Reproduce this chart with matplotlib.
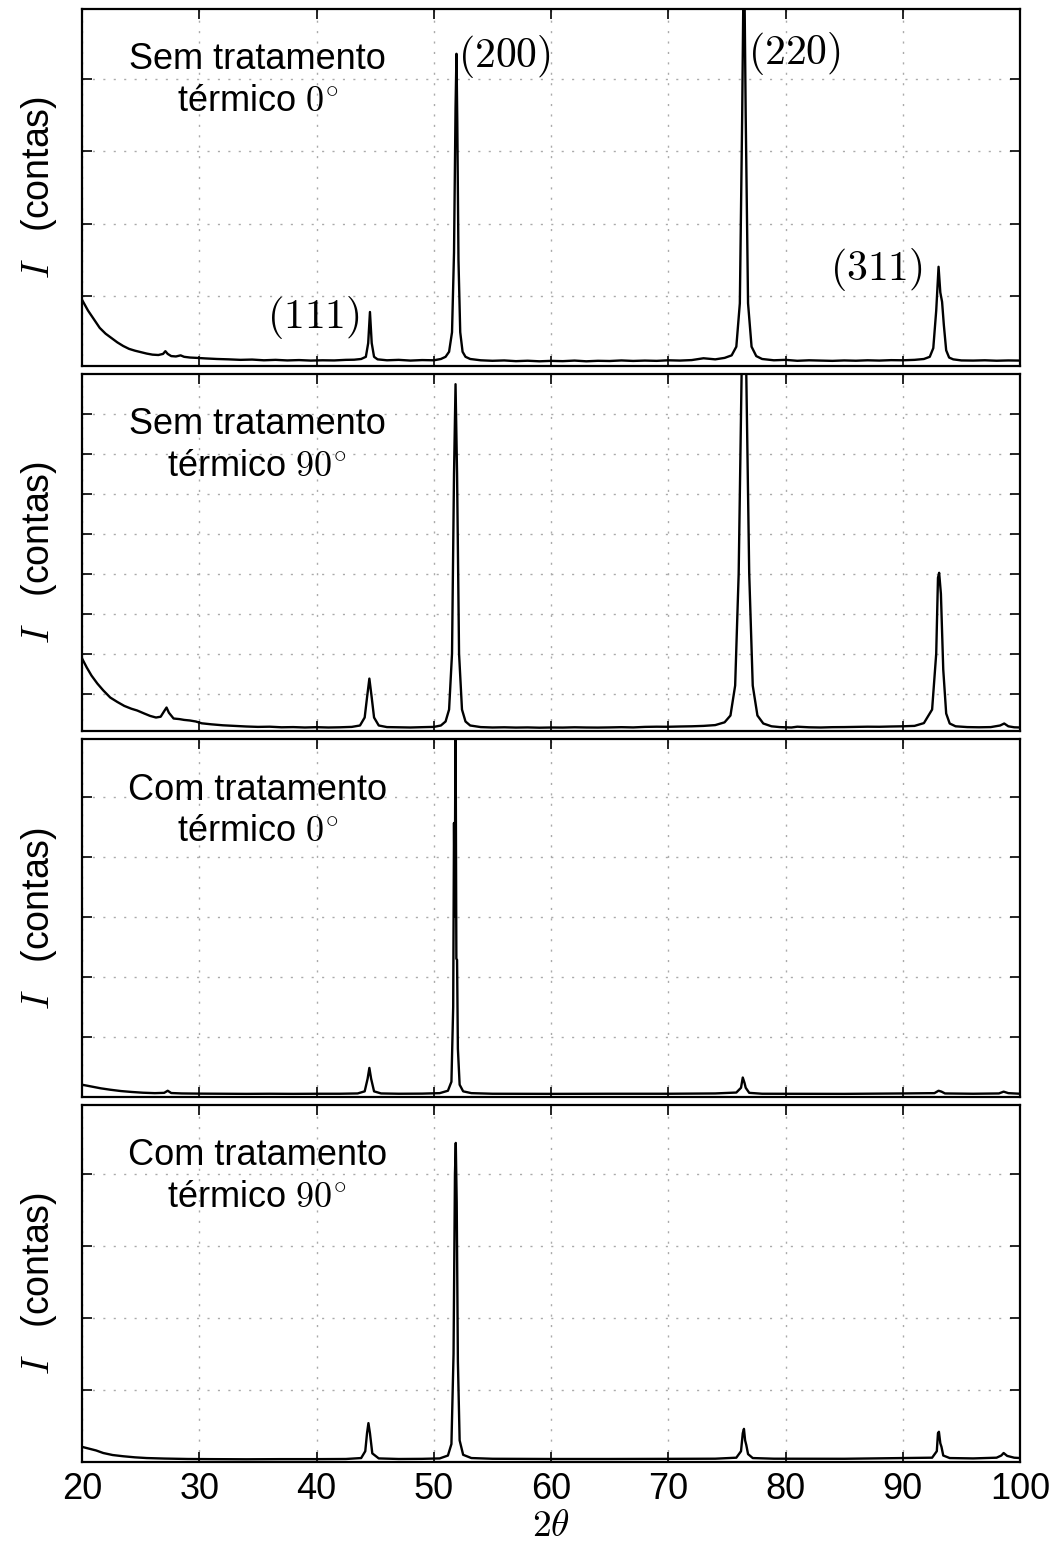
import matplotlib
matplotlib.use('Agg')
import matplotlib.pyplot as plt

plt.rcParams['font.family'] = ['Liberation Sans', 'DejaVu Sans']
plt.rcParams['mathtext.fontset'] = 'cm'

# --- difratogramas (2theta, contagens) ---
tt_sem0 = [20.0, 20.5, 21.0, 21.5, 22.0, 22.5, 23.0, 23.5, 24.0, 24.5, 25.0, 25.5, 26.0, 26.5,
           26.9, 27.1, 27.3, 27.6, 28.0, 28.4, 28.7, 29.2, 29.8, 30.5, 31.5, 32.5, 33.5, 34.5,
           35.5, 36.5, 37.5, 38.5, 39.5, 40.5, 41.5, 42.5, 43.2, 43.8, 44.2, 44.4, 44.55, 44.7,
           44.9, 45.2, 46.0, 47.0, 48.0, 49.0, 50.0, 50.6, 51.0, 51.3, 51.55, 51.72, 51.85, 51.93,
           52.0, 52.1, 52.25, 52.45, 52.7, 53.1, 54.0, 55.0, 56.0, 57.0, 58.0, 59.0, 60.0, 61.0,
           62.0, 63.0, 64.0, 65.0, 66.0, 67.0, 68.0, 69.0, 70.0, 71.0, 72.0, 73.0, 74.0, 74.8,
           75.4, 75.8, 76.1, 76.3, 76.45, 76.6, 76.8, 77.1, 77.5, 78.0, 79.0, 80.0, 81.0, 82.0,
           83.0, 84.0, 85.0, 86.0, 87.0, 88.0, 89.0, 90.0, 91.0, 91.8, 92.3, 92.6, 92.85, 93.05,
           93.2, 93.35, 93.5, 93.7, 93.95, 94.3, 95.0, 96.0, 97.0, 98.0, 99.0, 100.0]
cts_sem0 = [946, 800, 680, 560, 480, 420, 360, 310, 270, 245, 225, 205, 190, 185,
            200, 238, 200, 170, 165, 180, 160, 150, 145, 138, 130, 125, 118, 122,
            112, 118, 110, 115, 108, 112, 110, 118, 120, 130, 160, 350, 780, 350,
            160, 125, 112, 118, 108, 115, 112, 130, 160, 230, 500, 1600, 3600, 4350,
            3400, 1500, 500, 230, 160, 130, 112, 105, 110, 100, 106, 98, 104, 100,
            108, 98, 105, 102, 110, 103, 108, 104, 112, 108, 115, 140, 125, 145,
            180, 300, 900, 3500, 6000, 3500, 900, 300, 170, 130, 112, 118, 105, 112,
            108, 104, 110, 106, 112, 108, 114, 112, 118, 130, 160, 280, 800, 1405,
            1050, 920, 600, 250, 150, 125, 110, 108, 112, 106, 110, 108]

tt_sem90 = [20.0, 20.4, 20.8, 21.3, 21.8, 22.4, 23.0, 23.6, 24.2, 24.7, 25.3, 25.8, 26.3, 26.7,
            27.0, 27.2, 27.4, 27.8, 28.3, 28.7, 29.2, 29.7, 30.2, 31.0, 32.0, 33.0, 34.0, 35.0,
            36.0, 37.0, 38.0, 39.0, 40.0, 41.0, 42.0, 43.0, 43.7, 44.1, 44.3, 44.5, 44.7, 44.9,
            45.3, 46.0, 47.0, 48.0, 49.0, 50.0, 50.6, 51.0, 51.3, 51.55, 51.72, 51.85, 51.98, 52.15,
            52.4, 52.7, 53.1, 54.0, 55.0, 56.0, 57.0, 58.0, 59.0, 60.0, 61.0, 62.0, 63.0, 64.0,
            65.0, 66.0, 67.0, 68.0, 69.0, 70.0, 71.0, 72.0, 73.0, 74.0, 74.8, 75.3, 75.7, 76.0,
            76.25, 76.45, 76.65, 76.9, 77.2, 77.6, 78.1, 78.8, 79.5, 80.5, 81.0, 82.0, 83.0, 84.0,
            85.0, 86.0, 87.0, 88.0, 89.0, 90.0, 91.0, 91.8, 92.5, 92.85, 93.0, 93.1, 93.25, 93.45,
            93.7, 94.0, 94.5, 95.5, 96.5, 97.5, 98.3, 98.65, 99.0, 99.5, 100.0]
cts_sem90 = [1875, 1650, 1450, 1250, 1080, 900, 790, 690, 620, 575, 500, 440, 400, 420,
             560, 650, 520, 375, 360, 340, 325, 300, 255, 230, 205, 190, 175, 165,
             170, 155, 160, 150, 158, 150, 155, 165, 200, 400, 900, 1375, 900, 400,
             200, 160, 155, 150, 158, 165, 200, 300, 600, 2000, 6500, 8750, 6500, 2000,
             600, 300, 200, 160, 150, 155, 148, 152, 145, 150, 148, 155, 150, 148,
             152, 158, 152, 165, 170, 168, 175, 180, 190, 210, 280, 450, 1200, 4000,
             9000, 10500, 9000, 4000, 1200, 450, 250, 180, 160, 150, 170, 155, 150, 158,
             160, 165, 170, 168, 175, 180, 190, 260, 600, 2000, 3900, 4025, 3500, 1600,
             500, 250, 180, 160, 155, 160, 200, 250, 180, 155, 150]

tt_com0 = [20.0, 20.8, 21.6, 22.4, 23.3, 24.2, 25.2, 26.2, 27.0, 27.3, 27.6, 28.5, 30.0, 32.0,
           34.0, 36.0, 38.0, 40.0, 42.0, 43.5, 44.1, 44.35, 44.5, 44.65, 44.9, 45.5, 47.0, 49.0,
           50.5, 51.2, 51.5, 51.65, 51.72, 51.78, 51.85, 51.92, 51.98, 52.05, 52.2, 52.5, 53.2, 55.0,
           60.0, 65.0, 70.0, 74.0, 75.8, 76.2, 76.35, 76.5, 76.6, 76.9, 78.0, 85.0, 90.0, 92.7,
           93.05, 93.3, 93.6, 96.0, 98.2, 98.6, 99.0, 100.0]
cts_com0 = [200, 170, 140, 117, 95, 80, 67, 60, 65, 100, 62, 55, 52, 50,
            48, 50, 48, 50, 50, 55, 90, 300, 480, 300, 90, 55, 50, 52,
            60, 100, 250, 1500, 4560, 3000, 6500, 2300, 2280, 800, 200, 90, 60, 50,
            48, 50, 50, 55, 70, 150, 320, 230, 150, 65, 50, 48, 55, 60,
            100, 85, 55, 50, 55, 85, 60, 50]

tt_com90 = [20.0, 20.6, 21.2, 21.8, 22.6, 23.5, 24.5, 25.5, 27.0, 29.0, 31.0, 34.0, 37.0, 40.0,
            42.5, 43.8, 44.15, 44.3, 44.42, 44.55, 44.75, 45.3, 47.0, 49.0, 50.5, 51.2, 51.5, 51.68,
            51.8, 51.87, 51.95, 52.05, 52.2, 52.5, 53.2, 55.0, 60.0, 65.0, 70.0, 74.0, 75.8, 76.2,
            76.35, 76.45, 76.55, 76.65, 76.8, 77.2, 79.0, 85.0, 90.0, 92.5, 92.9, 93.0, 93.08, 93.2,
            93.3, 93.45, 94.0, 96.0, 98.0, 98.4, 98.6, 98.9, 99.5, 100.0]
cts_com90 = [210, 185, 160, 125, 97, 80, 65, 55, 48, 42, 40, 38, 40, 40,
             42, 55, 150, 400, 540, 400, 120, 50, 42, 44, 50, 90, 250, 1500,
             4000, 4430, 3600, 1400, 300, 100, 55, 45, 42, 42, 44, 46, 60, 150,
             400, 460, 300, 236, 110, 55, 46, 45, 55, 60, 150, 400, 420, 260,
             210, 90, 55, 50, 60, 90, 125, 85, 60, 55]

titles = ['Sem tratamento\ntérmico $0^{\\!\\circ}$', 'Sem tratamento\ntérmico $90^{\\!\\circ}$',
          'Com tratamento\ntérmico $0^{\\!\\circ}$', 'Com tratamento\ntérmico $90^{\\!\\circ}$']
series = [(tt_sem0, cts_sem0), (tt_sem90, cts_sem90), (tt_com0, cts_com0), (tt_com90, cts_com90)]
ylims = [(30, 4970), (50, 9000), (0, 5950), (0, 4960)]
yticks = [[1000, 2000, 3000, 4000],
          [1000, 2000, 3000, 4000, 5000, 6000, 7000, 8000],
          [1000, 2000, 3000, 4000, 5000],
          [1000, 2000, 3000, 4000]]

fig, axes = plt.subplots(4, 1, sharex=True, figsize=(10.53, 15.44), dpi=100)
fig.subplots_adjust(left=0.078, right=0.9687, top=0.9942, bottom=0.0531, hspace=0.0224)

for ax, (tt, cts), title, yl, yt in zip(axes, series, titles, ylims, yticks):
    ax.plot(tt, cts, color='k', lw=1.7)
    ax.set_xlim(20, 100)
    ax.set_ylim(*yl)
    ax.set_yticks(yt)
    ax.set_xticks(range(20, 101, 10))
    ax.tick_params(direction='in', length=7, width=1.2, top=True, right=True,
                   labelleft=False, labelsize=26, pad=7)
    ax.grid(True, color='#aaaaaa', linestyle=(0, (1.5, 6)), lw=1)
    for sp in ax.spines.values():
        sp.set_linewidth(1.6)
    ax.set_ylabel('$I$   (contas)', fontsize=27, labelpad=17)
    ax.text(0.187, 0.80, title, transform=ax.transAxes, ha='center', va='center',
            fontsize=26, linespacing=1.25)

# indices de Miller no primeiro painel
ax0 = axes[0]
ax0.text(43.7, 710, '$(111)$', ha='right', va='center', fontsize=30)
ax0.text(52.07, 4308, '$(200)$', ha='left', va='center', fontsize=30)
ax0.text(76.8, 4350, '$(220)$', ha='left', va='center', fontsize=30)
ax0.text(91.7, 1363, '$(311)$', ha='right', va='center', fontsize=30)

axes[-1].set_xlabel('$2\\theta$', fontsize=27, labelpad=1)

fig.savefig('out.png', dpi=100)
